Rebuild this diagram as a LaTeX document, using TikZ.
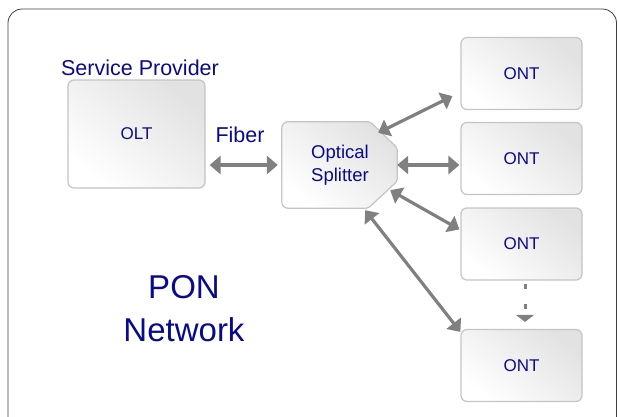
\documentclass[tikz,border=0pt]{standalone}
\usepackage{fontspec}
\setmainfont{Liberation Sans}
\usetikzlibrary{calc, arrows.meta}
\definecolor{ponblue}{RGB}{10,10,140}
\definecolor{linkgray}{RGB}{128,128,128}
\definecolor{boxedge}{RGB}{196,196,196}
\definecolor{boxdark}{RGB}{226,226,226}
\tikzset{
  unit/.style={draw=boxedge, line width=1.2pt, rounded corners=6pt,
    top color=boxdark, bottom color=white, shading angle=-40,
    inner sep=0pt, text=ponblue},
  link/.style={draw=linkgray, line width=3.2pt,
    {Triangle[length=11pt,width=18pt]}-{Triangle[length=11pt,width=18pt]}},
  label/.style={text=ponblue, inner sep=0pt}
}

\begin{document}
\begin{tikzpicture}[x=1pt, y=-1pt]
  \useasboundingbox (0,0) rectangle (618,416);
  \draw[black!75, line width=0.8pt, rounded corners=14pt] (8,9) rectangle (616.5,440);

  \node[unit, minimum width=137pt, minimum height=108pt, font=\fontsize{17}{20}\selectfont] (olt) at (136.5,134) {OLT};
  \node[label, anchor=base, font=\fontsize{21.5}{24}\selectfont] (sp) at (140,75) {Service Provider};

  \foreach \n/\y in {1/73.5, 2/158.5, 3/244, 4/365.5}{
    \node[unit, minimum width=121pt, minimum height=72pt, font=\fontsize{17}{20}\selectfont] (ont\n) at (521.5,\y) {ONT};
  }

  % splitter with cut corners on the right
  \node[minimum width=115pt, minimum height=86pt, inner sep=0pt] (spl) at (339.5,165) {};
  \path[unit, rounded corners=2pt] ([xshift=-27pt]spl.north east) -- ([yshift=-26pt]spl.north east)
    -- ([yshift=27pt]spl.south east) -- ([xshift=-29pt]spl.south east)
    [rounded corners=6pt] -- (spl.south west) -- (spl.north west) [rounded corners=2pt] -- cycle;
  \node[label, align=center, font=\fontsize{18.5}{22.7}\selectfont] (spltext) at (340,165) {Optical\\Splitter};

  \node[label, anchor=base, font=\fontsize{21.5}{24}\selectfont] (fiber) at (240,142.5) {Fiber};
  \draw[link, shorten <=4pt, shorten >=4pt] (spl.west -| olt.east) -- (spl.west);

  \draw[link] ([xshift=-19pt,yshift=-11pt]spl.north east) -- ([xshift=-8pt,yshift=14pt]ont1.south west);
  \draw[link, shorten >=1pt] (spl.east) -- (spl.east -| ont2.west);
  \draw[link] ([xshift=-7pt,yshift=18pt]spl.south east) -- ([xshift=-1pt,yshift=-22pt]ont3.north west);
  \draw[link] ([xshift=-32pt,yshift=-2pt]spl.south east) -- ([yshift=-3pt]ont4.north west);

  \draw[draw=linkgray, line width=3pt, dash pattern=on 5pt off 15pt, -{Triangle[length=7pt,width=18pt]},
    shorten <=3pt, shorten >=7pt] ([xshift=3.5pt]ont3.south) -- ([xshift=3.5pt]ont4.north);

  \node[label, align=center, font=\fontsize{33}{43}\selectfont] (pon) at (184,309) {PON\\Network};
\end{tikzpicture}
\end{document}
